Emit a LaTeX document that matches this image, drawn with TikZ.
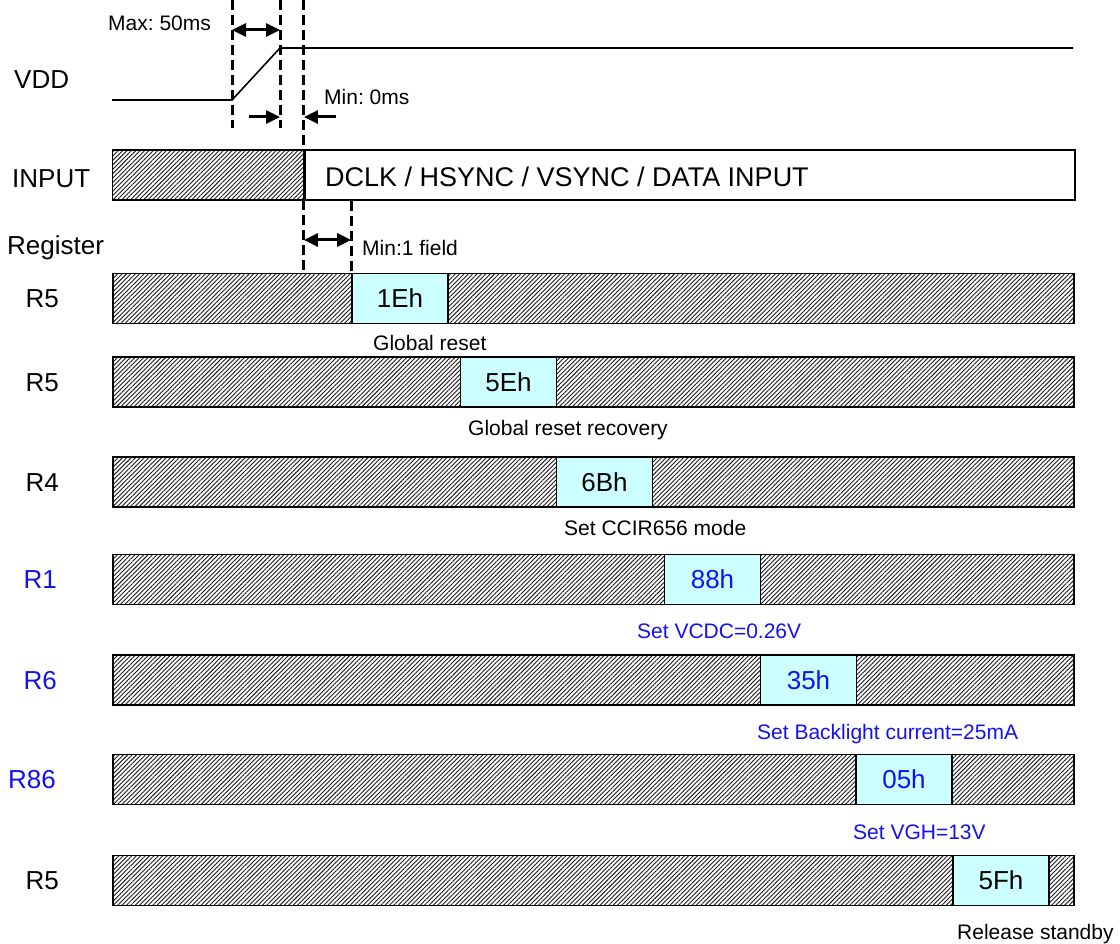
\documentclass[tikz,border=0pt]{standalone}
\usepackage{fontspec}
\setmainfont{Liberation Sans}
\usepackage{tikz}
\usetikzlibrary{arrows.meta,patterns.meta}

\definecolor{regcyan}{HTML}{CCFFFF}
\definecolor{regblue}{HTML}{1212F0}

\newcommand{\lblfont}{\fontsize{26}{31}\selectfont}
\newcommand{\notefont}{\fontsize{21}{25}\selectfont}
\frenchspacing

\tikzset{
  hatchbar/.style={draw,line width=1.6pt,inner sep=0pt,minimum height=50pt,
    pattern={Lines[angle=45,distance=3.1pt,line width=0.9pt]},pattern color=black!90},
  plainbar/.style={draw,line width=1.6pt,inner sep=0pt,minimum height=50pt,fill=white},
  regbox/.style={draw,line width=1.6pt,fill=regcyan,inner sep=0pt,
    minimum width=96pt,minimum height=50pt,font=\lblfont},
  guide/.style={line width=3pt,dash pattern=on 10pt off 5pt},
  wave/.style={line width=1.6pt},
  dim/.style={line width=3pt,-{Triangle[length=14pt,width=13pt]}},
  dimboth/.style={line width=3pt,{Triangle[length=14pt,width=13pt]}-{Triangle[length=14pt,width=13pt]}},
  lbl/.style={font=\lblfont,inner sep=0pt},
  note/.style={font=\notefont,inner sep=0pt,anchor=base west}
}

\begin{document}
\begin{tikzpicture}[x=1pt,y=-1pt]
  \useasboundingbox (0,0) rectangle (1120,944);

  % VDD ramp
  \coordinate (gtop) at (0,0);
  \coordinate (gend) at (0,128);
  \coordinate (vlo) at (112,100);
  \coordinate (rs) at (232,100);
  \coordinate (re) at (280,48);
  \coordinate (vhi) at (1073,48);
  \draw[wave] (vlo) -- (rs) -- (re) -- (vhi);
  \node[lbl,anchor=base west] (vdd) at (14,89) {VDD};

  % INPUT
  \node[hatchbar,minimum width=191pt,anchor=west] (inhatch) at (112,175) {};
  \node[plainbar,minimum width=770pt,anchor=west] (indata) at (inhatch.east) {};
  \node[lbl,anchor=base west,font=\fontsize{27}{32}\selectfont] (intext) at (325,186.5) {DCLK / HSYNC / VSYNC / DATA INPUT};
  \node[lbl,anchor=base west] (inlbl) at (12,188) {INPUT};
  \node[lbl,anchor=base west] (reglbl) at (7,255) {Register};

  % register rows
  \node[hatchbar,minimum width=961pt,anchor=west] (bar1) at (112,298.5) {};
  \node[regbox] (b1) at (400,298.5) {1Eh};
  \node[lbl,anchor=base east] (l1) at (59,307.8) {R5};
  \node[note] (n1) at (373,350.5) {Global reset};

  \node[hatchbar,minimum width=961pt,anchor=west] (bar2) at (112,382) {};
  \node[regbox] (b2) at (508.5,382) {5Eh};
  \node[lbl,anchor=base east] (l2) at (59,391.3) {R5};
  \node[note] (n2) at (468,435.5) {Global reset recovery};

  \node[hatchbar,minimum width=961pt,anchor=west] (bar3) at (112,482) {};
  \node[regbox] (b3) at (604.5,482) {6Bh};
  \node[lbl,anchor=base east] (l3) at (59,491.3) {R4};
  \node[note] (n3) at (564,535.5) {Set CCIR656 mode};

  \node[hatchbar,minimum width=961pt,anchor=west] (bar4) at (112,579.5) {};
  \node[regbox,text=regblue] (b4) at (712.5,579.5) {88h};
  \node[lbl,anchor=base east,text=regblue] (l4) at (57,588.8) {R1};
  \node[note,text=regblue] (n4) at (637,638.5) {Set VCDC=0.26V};

  \node[hatchbar,minimum width=961pt,anchor=west] (bar5) at (112,680) {};
  \node[regbox,text=regblue] (b5) at (808.5,680) {35h};
  \node[lbl,anchor=base east,text=regblue] (l5) at (57,689.3) {R6};
  \node[note,text=regblue] (n5) at (757,739.5) {Set Backlight current=25mA};

  \node[hatchbar,minimum width=961pt,anchor=west] (bar6) at (112,779.5) {};
  \node[regbox,text=regblue] (b6) at (904,779.5) {05h};
  \node[lbl,anchor=base east,text=regblue] (l6) at (56,788.8) {R86};
  \node[note,text=regblue] (n6) at (853,839.5) {Set VGH=13V};

  \node[hatchbar,minimum width=961pt,anchor=west] (bar7) at (112,880.5) {};
  \node[regbox] (b7) at (1001,880.5) {5Fh};
  \node[lbl,anchor=base east] (l7) at (59,889.8) {R5};
  \node[note] (n7) at (957,939.5) {Release standby};

  % timing guides
  \draw[guide] (rs |- gtop) -- (rs |- gend);
  \draw[guide] (re |- gtop) -- (re |- gend);
  \draw[guide] (inhatch.east |- gtop) -- (inhatch.north east);
  \draw[guide] (inhatch.south east) -- (inhatch.east |- bar1.north);
  \draw[guide] (b1.west |- indata.south) -- (b1.north west);

  \draw[dimboth] (rs |- 0,30) -- (re |- 0,30);
  \node[note] (maxlbl) at (108,30.5) {Max: 50ms};
  \draw[dim] (249,117) -- (re |- 0,117);
  \draw[dim] (336,117) -- (inhatch.east |- 0,117);
  \node[note] (minlbl) at (324,104.5) {Min: 0ms};
  \draw[dimboth] (inhatch.east |- 0,240) -- (b1.west |- 0,240);
  \node[note] (fieldlbl) at (362,255.5) {Min:1 field};
\end{tikzpicture}
\end{document}
